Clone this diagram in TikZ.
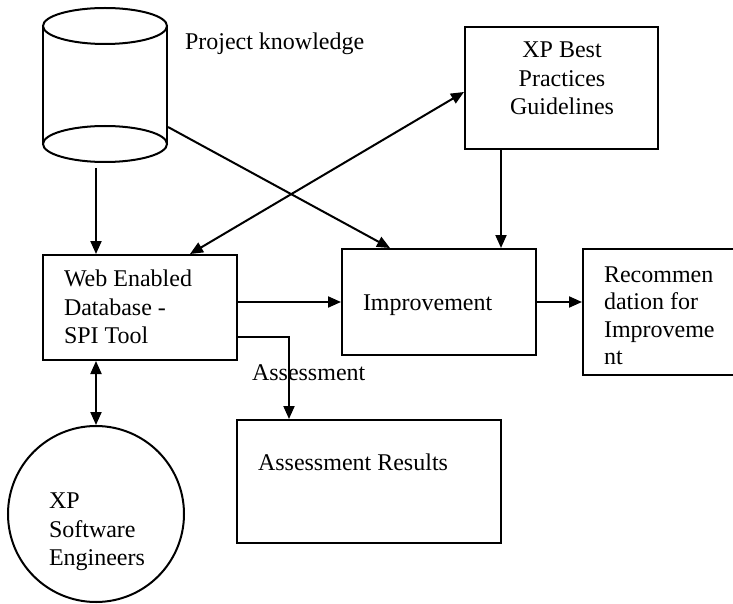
\documentclass[tikz,border=0pt]{standalone}
\usepackage{fontspec}
\setmainfont{Liberation Serif}
\usetikzlibrary{arrows.meta,calc}
\newcommand\dgfont{\fontsize{24pt}{28pt}\selectfont}
\begin{document}
\begin{tikzpicture}[x=1pt,y=-1pt, line width=2pt,
  box/.style={draw, rectangle, inner sep=0pt, line width=2pt},
  lbl/.style={anchor=base west, inner sep=0pt, font=\dgfont},
  clbl/.style={anchor=base, inner sep=0pt, font=\dgfont},
  arr/.style={-{Triangle[length=13pt,width=11pt]}, line width=2pt},
  darr/.style={{Triangle[length=13pt,width=11pt]}-{Triangle[length=13pt,width=11pt]}, line width=2pt}]
\useasboundingbox (0,0) rectangle (733,604);
\clip (0,0) rectangle (733,604);
% cylinder
\node[inner sep=0pt, minimum width=124pt, minimum height=154pt] (cyl) at (105,85) {};
\draw (105,26) ellipse [x radius=62pt, y radius=18pt];
\draw (105,144) ellipse [x radius=62pt, y radius=18pt];
\draw (43,26) -- (43,144);
\draw (167,26) -- (167,144);
\node[lbl] (pk) at (184,50) {Project knowledge};
% boxes
\node[box, minimum width=194pt, minimum height=105pt] (web) at (140,307.5) {};
\node[box, minimum width=194pt, minimum height=106pt] (imp) at (439,302) {};
\node[box, minimum width=160pt, minimum height=126pt] (rec) at (663,312) {};
\node[box, minimum width=193pt, minimum height=122pt] (xpb) at (561.5,88) {};
\node[box, minimum width=264pt, minimum height=123pt] (ar) at (369,481.5) {};
\node[draw, circle, inner sep=0pt, minimum size=176pt, line width=2pt] (circ) at (96,514) {};
% texts
\node[lbl] (w1) at (63,286) {Web Enabled};
\node[lbl] (w2) at (63,315) {Database -};
\node[lbl] (w3) at (63,343) {SPI Tool};
\node[lbl] (c1) at (48,508) {XP};
\node[lbl] (c2) at (48,537) {Software};
\node[lbl] (c3) at (48,565) {Engineers};
\node[lbl] (i1) at (362,310) {Improvement};
\node[lbl] (r1) at (603,282) {Recommen};
\node[lbl] (r2) at (603,309.5) {dation for};
\node[lbl] (r3) at (603,337) {Improveme};
\node[lbl] (r4) at (603,364.5) {nt};
\node[clbl] (x1) at (562,58) {XP Best};
\node[clbl] (x2) at (562,87) {Practices};
\node[clbl] (x3) at (562,115) {Guidelines};
\node[lbl] (as) at (251,380) {Assessment};
\node[lbl] (ar1) at (257,470) {Assessment Results};
% connectors
\coordinate (cylout) at ([yshift=-5pt]cyl.south -| circ.north);
\draw[arr] (cylout) -- (cylout |- web.north);
\draw[darr] (web.south -| circ.north) -- (circ.north);
\draw[arr] (web.east |- imp.west) -- (imp.west);
\coordinate (assout) at ([yshift=-29.5pt]web.east);
\coordinate (assin) at ([xshift=-80pt]ar.north);
\draw[arr] (assout) -| (assin);
\draw[arr] (imp.east) -- (imp.east -| rec.west);
\coordinate (xpbout) at ([xshift=-60.5pt]xpb.south);
\draw[arr] (xpbout) -- (xpbout |- imp.north);
\draw[darr] ([yshift=-4pt]xpb.west) -- ([xshift=50pt]web.north);
\draw[arr] ([yshift=-42pt]cyl.east) -- ([xshift=-49pt]imp.north);
\end{tikzpicture}
\end{document}
